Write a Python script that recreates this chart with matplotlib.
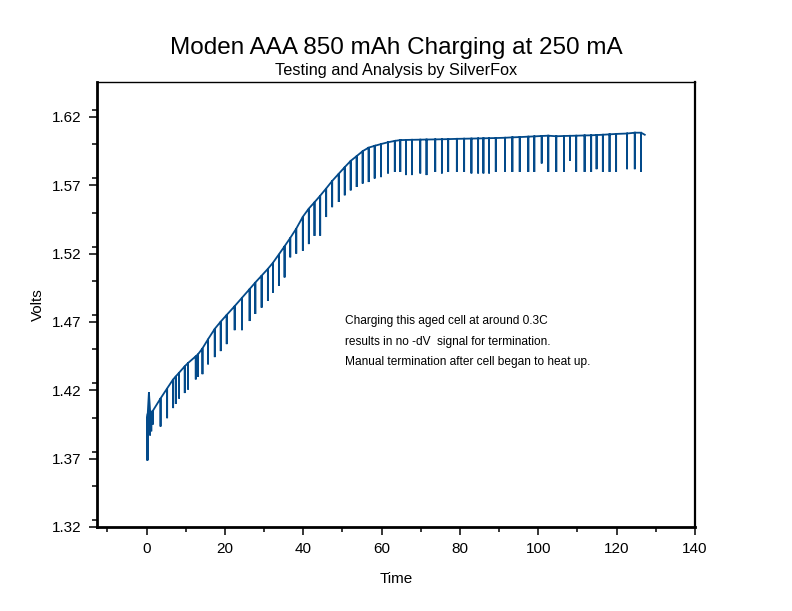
import matplotlib
matplotlib.use("Agg")
import matplotlib.pyplot as plt
from matplotlib.ticker import MultipleLocator

plt.rcParams['font.family'] = ['Liberation Sans', 'DejaVu Sans']

# charge cycles: time, voltage just before the pulse dip, voltage at the dip
cycle_time = [0.1, 0.3, 0.6, 0.9, 1.2, 1.6,
              3.57, 5.25, 6.78, 7.46, 8.30, 9.75, 10.59, 12.56, 13.14, 14.27,
              15.70, 17.41, 18.93, 20.46, 22.49, 24.35, 26.31, 27.76, 29.37,
              30.97, 32.25, 33.78, 35.23, 36.68, 38.21, 39.89, 41.42, 42.87,
              44.32, 45.85, 47.38, 49.06, 50.59, 52.11, 53.64, 55.17, 56.70,
              58.23, 59.86, 61.64, 63.37, 64.77, 66.23, 67.75, 69.87, 71.47,
              73.69, 75.39, 77.00, 79.21, 81.07, 82.93, 84.64, 85.99, 87.44,
              89.15, 91.52, 93.38, 95.26, 97.45, 98.98, 100.87, 102.55, 104.59,
              106.55, 108.08, 109.68, 111.82, 113.50, 114.88, 116.48, 118.19,
              119.87, 122.67, 124.63, 126.24]
cycle_top = [1.399, 1.403, 1.4185, 1.405, 1.404, 1.405,
             1.4141, 1.4214, 1.428, 1.4302, 1.4329, 1.4376, 1.440, 1.4449, 1.4464, 1.4507,
             1.4574, 1.465, 1.4703, 1.4752, 1.4816, 1.4877, 1.4941, 1.4989, 1.5039,
             1.5089, 1.5133, 1.5195, 1.5254, 1.5315, 1.5383, 1.547, 1.553, 1.5576,
             1.5624, 1.5677, 1.5732, 1.5785, 1.5833, 1.5879, 1.5914, 1.5950, 1.5976,
             1.5989, 1.6002, 1.6015, 1.6025, 1.6031, 1.6032, 1.6033, 1.6034, 1.6035,
             1.6036, 1.6037, 1.6038, 1.6040, 1.6041, 1.6042, 1.6043, 1.6044, 1.6045,
             1.6046, 1.6048, 1.6051, 1.6053, 1.6056, 1.6058, 1.6061, 1.6063, 1.6059,
             1.6061, 1.6062, 1.6063, 1.6065, 1.6066, 1.6068, 1.6070, 1.6073,
             1.6076, 1.6079, 1.6085, 1.6085]
cycle_low = [1.3688, 1.3688, 1.392, 1.387, 1.390, 1.395,
             1.3935, 1.3996, 1.407, 1.410, 1.414, 1.418, 1.4206, 1.428, 1.430, 1.4318,
             1.439, 1.4443, 1.4487, 1.4538, 1.464, 1.464, 1.4707, 1.4759, 1.4805,
             1.4854, 1.4915, 1.4965, 1.5026, 1.5173, 1.520, 1.5222, 1.527, 1.533,
             1.5332, 1.5468, 1.554, 1.5578, 1.5627, 1.5663, 1.5688, 1.5713, 1.5724,
             1.575, 1.576, 1.5787, 1.5798, 1.5798, 1.5775, 1.5775, 1.5787, 1.5775,
             1.5798, 1.5787, 1.5798, 1.5798, 1.5798, 1.5787, 1.5787, 1.5787, 1.5787,
             1.5798, 1.5798, 1.5798, 1.5798, 1.5798, 1.5798, 1.586, 1.5798, 1.5798,
             1.5798, 1.588, 1.5798, 1.5798, 1.5798, 1.5818, 1.5798, 1.5798,
             1.5798, 1.5818, 1.5818, 1.580]
end_time = 127.18
end_volts = 1.607

note_lines = ["Charging this aged cell at around 0.3C",
              "results in no -dV  signal for termination.",
              "Manual termination after cell began to heat up."]

# build the trace: each cycle drops to its dip and comes straight back
xs = []
ys = []
for t, hi, lo in zip(cycle_time, cycle_top, cycle_low):
    xs += [t, t, t]
    ys += [hi, lo, hi]
xs.append(end_time)
ys.append(end_volts)

fig = plt.figure(figsize=(7.92, 6.11), dpi=100)
ax = fig.add_axes([0.1225, 0.1375, 0.7550, 0.7283])
ax.plot(xs, ys, color='#034a8a', lw=1.3, solid_joinstyle='miter')

ax.set_xlim(-12.65, 140)
ax.set_ylim(1.32, 1.6456)
ax.xaxis.set_major_locator(MultipleLocator(20))
ax.xaxis.set_minor_locator(MultipleLocator(10))
ax.set_yticks([1.32, 1.37, 1.42, 1.47, 1.52, 1.57, 1.62])
ax.set_yticklabels(["1.32", "1.37", "1.42", "1.47", "1.52", "1.57", "1.62"])
ax.yaxis.set_minor_locator(MultipleLocator(0.025))
ax.tick_params(which='major', direction='out', length=6, width=1.1,
               labelsize=11, pad=5)
ax.tick_params(which='minor', direction='out', length=3.6, width=1.1)
ax.tick_params(top=False, right=False, which='both')

ax.spines['left'].set_linewidth(2)
ax.spines['bottom'].set_linewidth(2)
ax.spines['top'].set_linewidth(1)
ax.spines['right'].set_linewidth(1.6)

ax.set_xlabel("Time", fontsize=11, labelpad=11)
ax.set_ylabel("Volts", fontsize=11, labelpad=5)

fig.text(0.5, 0.922, "Moden AAA 850 mAh Charging at 250 mA",
         ha='center', va='center', fontsize=17.5)
fig.text(0.5, 0.884, "Testing and Analysis by SilverFox",
         ha='center', va='center', fontsize=11.7)

for i, line in enumerate(note_lines):
    ax.text(0.4147, 0.4562 - i * 0.0463, line, transform=ax.transAxes,
            fontsize=8.6, ha='left', va='baseline')

fig.savefig("out.png", dpi=100)
